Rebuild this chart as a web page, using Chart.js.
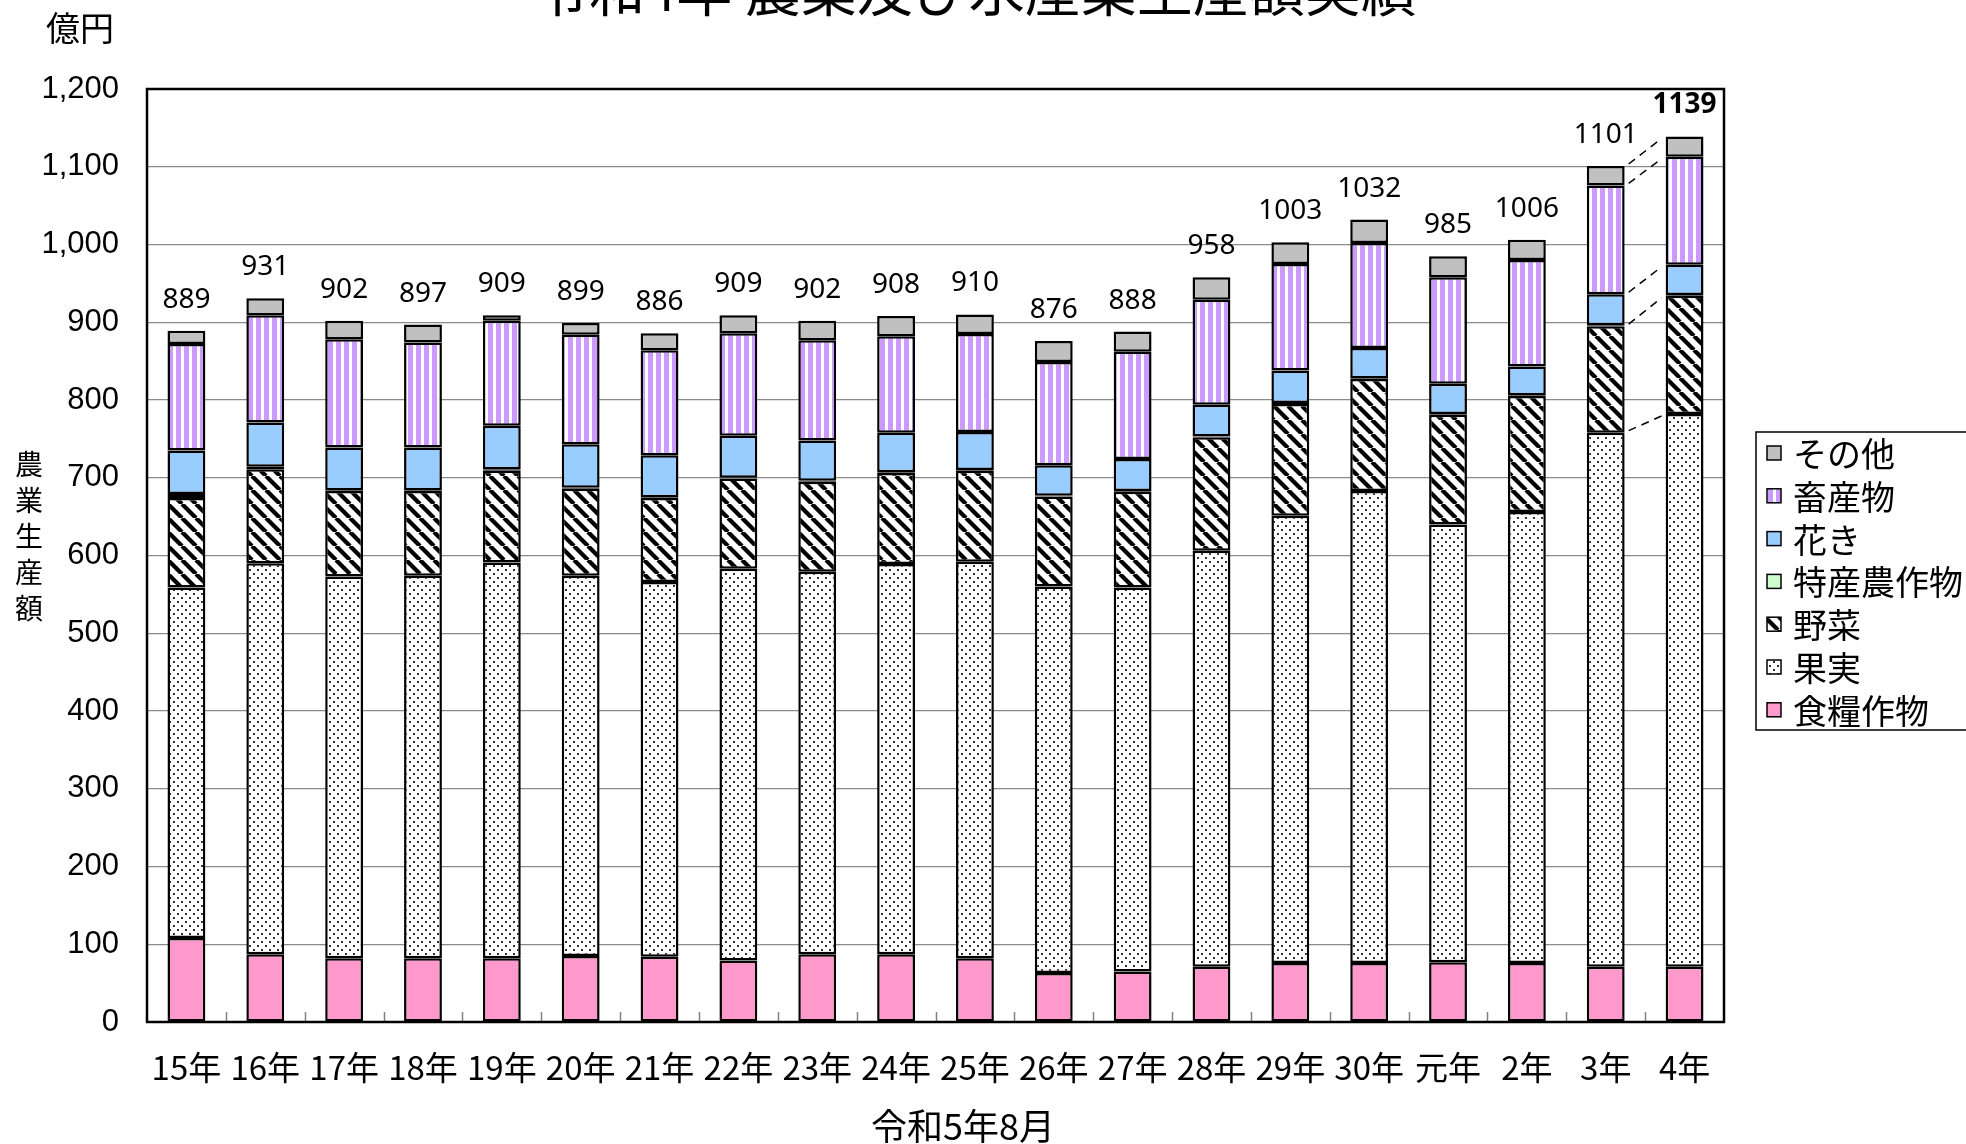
<!DOCTYPE html>
<html lang="ja">
<head>
<meta charset="utf-8">
<title>令和4年 農業及び水産業生産額実績</title>
<script src="https://cdn.jsdelivr.net/npm/chart.js@4.4.1/dist/chart.umd.min.js"></script>
<style>
  html, body { margin: 0; padding: 0; background: #fff; }
  #wrap { width: 1966px; height: 1144px; }
</style>
</head>
<body>
<div id="wrap"><canvas id="chart" width="1966" height="1144"></canvas></div>
<script>
// 農業生産額 (億円)
const years = ['15年', '16年', '17年', '18年', '19年', '20年', '21年', '22年', '23年', '24年',
               '25年', '26年', '27年', '28年', '29年', '30年', '元年', '2年', '3年', '4年'];
const food      = [108, 87, 82, 82, 82, 85, 84, 79, 87, 87, 82, 63, 65, 71, 76, 76, 77, 76, 71, 71];
const fruit     = [451, 503, 491, 492, 509, 489, 482, 504, 492, 502, 510, 497, 494, 535, 575, 607, 563, 580, 687, 711];
const vegetable = [115, 121, 110, 109, 118, 112, 108, 116, 116, 117, 117, 116, 123, 146, 144, 144, 141, 149, 137, 152];
const special   = [5, 3, 1, 1, 2, 1, 1, 1, 1, 1, 1, 1, 1, 1, 1, 1, 1, 1, 1, 1];
const flowers   = [56, 57, 55, 55, 56, 56, 54, 54, 52, 51, 49, 39, 41, 41, 42, 39, 39, 37, 40, 39];
const livestock = [137, 138, 139, 135, 135, 141, 135, 132, 129, 124, 126, 133, 138, 135, 137, 135, 137, 137, 140, 139];
const others    = [17, 22, 24, 23, 7, 15, 22, 23, 25, 26, 25, 27, 26, 29, 28, 30, 27, 26, 25, 26];
const totals    = [889, 931, 902, 897, 909, 899, 886, 909, 902, 908, 910, 876, 888, 958, 1003, 1032, 985, 1006, 1101, 1139];
const yTicks    = [0, 100, 200, 300, 400, 500, 600, 700, 800, 900, 1000, 1100, 1200];

const JP = '"Noto Sans CJK JP", "Noto Sans", sans-serif';

// small tiles used as bar fills
function makePattern(w, h, paint) {
    const c = document.createElement('canvas');
    c.width = w;
    c.height = h;
    const g = c.getContext('2d');
    paint(g, w, h);
    return g.createPattern(c, 'repeat');
}

const dots = makePattern(8, 8, function(g) {
    g.fillStyle = '#fff';
    g.fillRect(0, 0, 8, 8);
    g.fillStyle = '#333';
    g.fillRect(1, 1, 2, 2);
    g.fillRect(5, 5, 2, 2);
});

const diagonal = makePattern(14, 14, function(g, s) {
    g.fillStyle = '#fff';
    g.fillRect(0, 0, s, s);
    g.strokeStyle = '#000';
    g.lineWidth = 4.2;
    for (const x0 of [-s, 0, s]) {
        g.beginPath();
        g.moveTo(x0, 0);
        g.lineTo(x0 + s, s);
        g.stroke();
    }
});

const stripes = makePattern(8, 8, function(g) {
    g.fillStyle = '#fff';
    g.fillRect(0, 0, 8, 8);
    g.fillStyle = '#cc99ff';
    g.fillRect(0, 0, 5, 8);
});

function series(label, data, fill) {
    return {
        label: label,
        data: data,
        backgroundColor: fill,
        borderColor: '#000',
        borderWidth: 2.5,
        borderSkipped: false
    };
}

// frame, inner tick marks, series lines, totals
const decorations = {
    id: 'decorations',
    afterDatasetsDraw(chart) {
        const { ctx, chartArea: a, scales: { x } } = chart;
        ctx.save();

        ctx.strokeStyle = '#808080';
        ctx.lineWidth = 1.5;
        for (let i = 1; i < years.length; i++) {
            const px = Math.round((x.getPixelForValue(i - 1) + x.getPixelForValue(i)) / 2) + 0.5;
            ctx.beginPath();
            ctx.moveTo(px, a.bottom);
            ctx.lineTo(px, a.bottom - 10);
            ctx.stroke();
        }

        ctx.strokeStyle = '#000';
        ctx.lineWidth = 2.5;
        ctx.strokeRect(a.left, a.top, a.right - a.left, a.bottom - a.top);

        // dashed series lines between the last two bars
        const n = years.length;
        ctx.lineWidth = 1.5;
        ctx.setLineDash([8, 6]);
        for (const k of [1, 2, 4, 5, 6]) {
            const bars = chart.getDatasetMeta(k).data;
            const p = bars[n - 2], q = bars[n - 1];
            ctx.beginPath();
            ctx.moveTo(p.x + p.width / 2 + 4, p.y - 2);
            ctx.lineTo(q.x - q.width / 2 - 4, q.y + 2);
            ctx.stroke();
        }
        ctx.setLineDash([]);

        const top = chart.getDatasetMeta(chart.data.datasets.length - 1).data;
        ctx.fillStyle = '#000';
        ctx.textAlign = 'center';
        ctx.textBaseline = 'middle';
        top.forEach(function(bar, i) {
            ctx.font = (i === n - 1 ? 'bold ' : '') + '28px "Noto Sans", sans-serif';
            ctx.fillText(String(totals[i]), bar.x, bar.y - 31);
        });
        ctx.restore();
    },
    afterDraw(chart) {
        const ctx = chart.ctx;
        ctx.save();
        ctx.fillStyle = '#000';
        ctx.textAlign = 'center';
        ctx.textBaseline = 'middle';

        ctx.font = '56px ' + JP;
        ctx.fillText('令和4年 農業及び水産業生産額実績', 975, -10);

        ctx.font = '34px ' + JP;
        ctx.fillText('億円', 80, 28);
        ctx.font = '36px ' + JP;
        ctx.fillText('令和5年8月', 963, 1126);

        ctx.font = '28px ' + JP;
        '農業生産額'.split('').forEach(function(ch, i) {
            ctx.fillText(ch, 29, 464 + i * 36);
        });

        // legend, drawn in reverse stack order
        ctx.strokeStyle = '#000';
        ctx.lineWidth = 1.5;
        ctx.strokeRect(1756, 432, 260, 298);
        ctx.font = '34px ' + JP;
        ctx.textAlign = 'left';
        const sets = chart.data.datasets.slice().reverse();
        sets.forEach(function(ds, i) {
            const cy = 453 + i * 42.8;
            ctx.fillStyle = ds.backgroundColor;
            ctx.fillRect(1767, cy - 7, 14, 14);
            ctx.lineWidth = 1.5;
            ctx.strokeRect(1767, cy - 7, 14, 14);
            ctx.fillStyle = '#000';
            ctx.fillText(ds.label, 1793, cy + 1);
        });
        ctx.restore();
    }
};

new Chart(document.getElementById('chart').getContext('2d'), {
    type: 'bar',
    data: {
        labels: years,
        datasets: [
            series('食糧作物', food, '#ff99cc'),
            series('果実', fruit, dots),
            series('野菜', vegetable, diagonal),
            series('特産農作物', special, '#ccffcc'),
            series('花き', flowers, '#99ccff'),
            series('畜産物', livestock, stripes),
            series('その他', others, '#c0c0c0')
        ]
    },
    options: {
        responsive: false,
        animation: false,
        devicePixelRatio: 1,
        layout: { padding: { left: 0, right: 242, top: 89, bottom: 0 } },
        datasets: { bar: { categoryPercentage: 1, barPercentage: 0.48 } },
        plugins: {
            legend: { display: false },
            tooltip: { enabled: false }
        },
        scales: {
            x: {
                stacked: true,
                grid: { display: false, drawTicks: false },
                border: { display: false },
                ticks: {
                    color: '#000',
                    font: { family: JP, size: 33 },
                    padding: 26,
                    autoSkip: false,
                    maxRotation: 0
                },
                afterFit(s) { s.height = 122; }
            },
            y: {
                stacked: true,
                min: 0,
                max: 1200,
                afterBuildTicks(s) { s.ticks = yTicks.map(v => ({ value: v })); },
                grid: { color: '#8a8a8a', lineWidth: 1.2, drawTicks: false },
                border: { display: false },
                ticks: {
                    color: '#000',
                    font: { family: '"Liberation Sans", Arial, sans-serif', size: 31 },
                    padding: 28,
                    callback: v => v.toLocaleString('en-US')
                },
                afterFit(s) { s.width = 147; }
            }
        }
    },
    plugins: [decorations]
});
</script>
</body>
</html>
